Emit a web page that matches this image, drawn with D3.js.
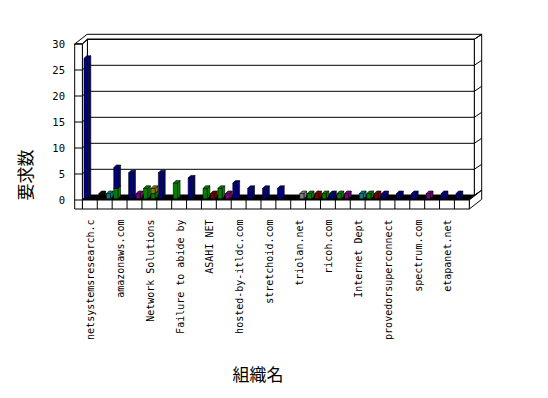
<!DOCTYPE html>
<html>
<head>
<meta charset="utf-8">
<script src="https://cdn.jsdelivr.net/npm/d3@7/dist/d3.min.js"></script>
<style>
  body { margin: 0; background: #fff; }
</style>
</head>
<body>
<div id="chart"></div>
<script>
"use strict";

// Organisation names printed under every 4th column
const tickLabels = ["netsystemsresearch.c", "amazonaws.com", "Network Solutions",
  "Failure to abide by", "ASAHI NET", "hosted-by-itldc.com", "stretchoid.com",
  "triolan.net", "ricoh.com", "Internet Dept", "provedorsuperconnect",
  "spectrum.com", "etapanet.net"];

// 52 organisations (columns), only every 4th one is labelled
const categories = d3.range(52);

// Request counts per series (stack order bottom -> top), one value per column
const green  = [0,0,0,0,2,0,0,0,2,1,0,0,3, 0,0,0,2,0,2,0,0,0,0,0,0,0,
                0,0,0,0,1,0,1,0,1,0,0,0,1, 0,0,0,0,0,0,0,0,0,0,0,0,0];
const navy   = [27,0,0,0,4,0,5,0,0,0,5,0,0, 0,4,0,0,0,0,0,3,0,2,0,2,0,
                2,0,0,0,0,0,0,1,0,0,0,0,0, 0,1,0,1,0,1,0,0,0,1,0,1,0];
const olive  = [0,0,0,0,0,0,0,0,0,1,0,0,0, 0,0,0,0,0,0,0,0,0,0,0,0,0,
                0,0,0,0,0,0,0,0,0,0,0,0,0, 0,0,0,0,0,0,0,0,0,0,0,0,0];
const teal   = [0,0,0,1,0,0,0,0,0,0,0,0,0, 0,0,0,0,0,0,0,0,0,0,0,0,0,
                0,0,0,0,0,0,0,0,0,0,0,1,0, 0,0,0,0,0,0,0,0,0,0,0,0,0];
const purple = [0,0,0,0,0,0,0,1,0,0,0,0,0, 0,0,0,0,0,0,1,0,0,0,0,0,0,
                0,0,0,0,0,0,0,0,0,1,0,0,0, 0,0,0,0,0,0,0,1,0,0,0,0,0];
const maroon = [0,0,0,0,0,0,0,0,0,0,0,0,0, 0,0,0,0,1,0,0,0,0,0,0,0,0,
                0,0,0,0,0,1,0,0,0,0,0,0,0, 1,0,0,0,0,0,0,0,0,0,0,0,0];
const gray   = [0,0,0,0,0,0,0,0,0,0,0,0,0, 0,0,0,0,0,0,0,0,0,0,0,0,0,
                0,0,0,1,0,0,0,0,0,0,0,0,0, 0,0,0,0,0,0,0,0,0,0,0,0,0];
const black  = [0,0,1,0,0,0,0,0,0,0,0,0,0, 0,0,0,0,0,0,0,0,0,0,0,0,0,
                0,0,0,0,0,0,0,0,0,0,0,0,0, 0,0,0,0,0,0,0,0,0,0,0,0,0];

const yTicks = [0, 5, 10, 15, 20, 25, 30];

const series = [
  {key: "green", values: green},
  {key: "navy", values: navy},
  {key: "olive", values: olive},
  {key: "teal", values: teal},
  {key: "purple", values: purple},
  {key: "maroon", values: maroon},
  {key: "gray", values: gray},
  {key: "black", values: black}
];
const colors = {green: "#008000", navy: "#000080", olive: "#808000", teal: "#008080",
                purple: "#800080", maroon: "#800000", gray: "#808080", black: "#000000"};

// Geometry of the 3D box
const x0 = 82.4, x1 = 469.3;      // front edge of the floor
const wallX = 74.7;               // outer edge of the left wall
const floorBottom = 209;
const dep = [5, -4.7];            // floor front -> back wall face
const thick = [7.4, -5];          // back wall thickness
const barDep = [2.6, -2.6];       // depth of one column
const barShift = [1.2, -1.2];     // columns stand slightly behind the front edge
const font = "'DejaVu Sans Mono', monospace";
const cjk = "'Noto Sans CJK JP', sans-serif";

const svg = d3.select("#chart").append("svg")
  .attr("width", 548)
  .attr("height", 398);

const x = d3.scaleBand().domain(categories).range([x0, x1]);
const y = d3.scaleLinear().domain([0, 30]).range([200, 44]);

const line = "#000";
function poly(pts, fill) {
  return svg.append("path")
    .attr("d", "M" + pts.map(p => p.join(",")).join("L") + "Z")
    .attr("fill", fill)
    .attr("stroke", line)
    .attr("stroke-width", 1)
    .attr("stroke-linejoin", "miter");
}

const yTop = y(30), yBase = y(0);
const bx0 = x0 + dep[0], bx1 = x1 + dep[0];
const backX = bx1 + thick[0];

// top of walls
poly([[wallX, yTop], [x0, yTop], [bx0, yTop + dep[1]], [bx1, yTop + dep[1]],
      [backX, yTop + dep[1] + thick[1]], [wallX + dep[0] + thick[0], yTop + dep[1] + thick[1]]], "#fff");
// right side of back wall
poly([[bx1, yTop + dep[1]], [backX, yTop + dep[1] + thick[1]],
      [backX, yBase + dep[1] + thick[1]], [bx1, yBase + dep[1]]], "#fff");
// back wall face
poly([[bx0, yTop + dep[1]], [bx1, yTop + dep[1]], [bx1, yBase + dep[1]], [bx0, yBase + dep[1]]], "#fff");
// inner face of left wall
poly([[x0, yTop], [bx0, yTop + dep[1]], [bx0, yBase + dep[1]], [x0, yBase]], "#fff");

// gridlines
yTicks.forEach(v => {
  const yy = y(v);
  svg.append("path")
    .attr("d", `M${x0},${yy}L${bx0},${yy + dep[1]}L${bx1},${yy + dep[1]}L${backX},${yy + dep[1] + thick[1]}`)
    .attr("fill", "none")
    .attr("stroke", line);
});

// floor top
poly([[x0, yBase], [x1, yBase], [bx1, yBase + dep[1]], [bx0, yBase + dep[1]]], "#000");
// floor right side
poly([[x1, yBase], [x1 + dep[0] + thick[0], yBase + dep[1] + thick[1]],
      [x1 + dep[0] + thick[0], floorBottom + dep[1] + thick[1]], [x1, floorBottom]], "#fff");
// floor front with category ticks
poly([[x0, yBase], [x1, yBase], [x1, floorBottom], [x0, floorBottom]], "#fff");
categories.forEach((c, i) => {
  if (i > 0 && i % 2 === 0) {
    svg.append("line")
      .attr("x1", x(c)).attr("x2", x(c))
      .attr("y1", yBase).attr("y2", floorBottom)
      .attr("stroke", line);
  }
});
// left wall front
poly([[wallX, yTop], [x0, yTop], [x0, floorBottom], [wallX, floorBottom]], "#fff");
yTicks.forEach(v => {
  svg.append("line")
    .attr("x1", wallX).attr("x2", x0)
    .attr("y1", y(v)).attr("y2", y(v))
    .attr("stroke", line);
});

// columns
const rows = categories.map((c, i) => {
  const r = {cat: c};
  series.forEach(s => { r[s.key] = s.values[i]; });
  return r;
});
const stacked = d3.stack().keys(series.map(s => s.key))(rows);

const barW = 4.2;
categories.forEach((c, i) => {
  stacked.forEach(layer => {
    const d = layer[i];
    if (d[1] - d[0] <= 0) return;
    const col = colors[layer.key];
    const xl = x(c) + 1.6 + barShift[0] - 1.2;
    const yt = y(d[1]) + barShift[1];
    const yb = y(d[0]) + barShift[1];
    const [dx, dy] = barDep;
    const g = svg.append("g");
    const face = (pts, fill) => g.append("path")
      .attr("d", "M" + pts.map(p => p.join(",")).join("L") + "Z")
      .attr("fill", fill)
      .attr("stroke", "#000")
      .attr("stroke-width", 0.6);
    face([[xl + barW, yt], [xl + barW + dx, yt + dy], [xl + barW + dx, yb + dy], [xl + barW, yb]], col);
    face([[xl, yt], [xl + dx, yt + dy], [xl + barW + dx, yt + dy], [xl + barW, yt]], col);
    face([[xl, yt], [xl + barW, yt], [xl + barW, yb], [xl, yb]], col);
  });
});

// y tick labels
svg.append("g").selectAll("text")
  .data(yTicks)
  .join("text")
  .attr("x", 65)
  .attr("y", d => y(d) + 4)
  .attr("text-anchor", "end")
  .attr("font-family", font)
  .attr("font-size", "10.5px")
  .attr("fill", "#000")
  .text(d => d);

// category labels, under every 2nd floor box
const boxW = x.step() * 2;
svg.append("g").selectAll("text")
  .data(tickLabels)
  .join("text")
  .attr("transform", (d, j) => `translate(${x0 + boxW * (j * 2 + 0.5) + 4.5},219.5) rotate(-90)`)
  .attr("text-anchor", "end")
  .attr("font-family", font)
  .attr("font-size", "10px")
  .attr("fill", "#000")
  .text(d => d);

// axis titles
svg.append("text")
  .attr("transform", "translate(32,175) rotate(-90)")
  .attr("text-anchor", "middle")
  .attr("font-family", cjk)
  .attr("font-size", "17px")
  .attr("fill", "#000")
  .text("要求数");

svg.append("text")
  .attr("x", 258)
  .attr("y", 381)
  .attr("text-anchor", "middle")
  .attr("font-family", cjk)
  .attr("font-size", "17px")
  .attr("fill", "#000")
  .text("組織名");
</script>
</body>
</html>
